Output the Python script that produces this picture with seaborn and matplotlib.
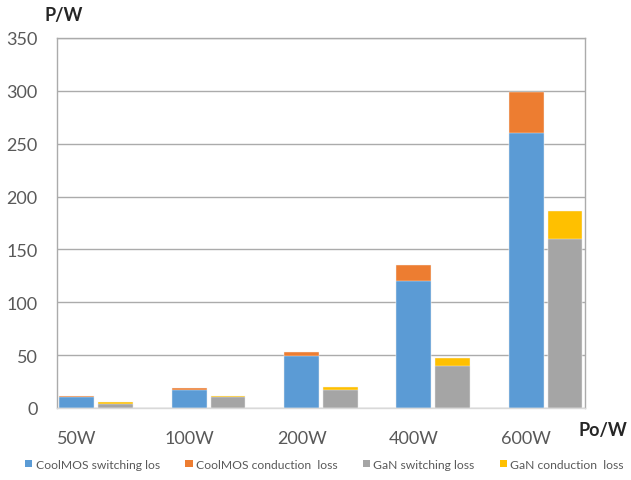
import numpy as np
import pandas as pd
import matplotlib
matplotlib.use("Agg")
import matplotlib.pyplot as plt
from matplotlib.patches import Patch
import seaborn as sns

# Power levels and loss components (W)
power_levels = ["50W", "100W", "200W", "400W", "600W"]
coolmos_switching = [10, 17, 49, 120, 260]
coolmos_conduction = [1, 2, 4, 15, 39]
gan_switching = [4, 10, 17, 40, 160]
gan_conduction = [1.5, 1, 3, 7, 26]
legend_labels = ["CoolMOS switching los", "CoolMOS conduction  loss",
                 "GaN switching loss", "GaN conduction  loss"]

c_blue, c_orange, c_gray, c_yellow = "#5B9BD5", "#ED7D31", "#A5A5A5", "#FFC000"

sns.set_theme(style="white")
plt.rcParams["font.family"] = ["Lato", "DejaVu Sans"]

df = pd.DataFrame({
    "power": power_levels * 2,
    "device": ["CoolMOS"] * 5 + ["GaN"] * 5,
    "switching": coolmos_switching + gan_switching,
    "total": [s + c for s, c in zip(coolmos_switching, coolmos_conduction)]
             + [s + c for s, c in zip(gan_switching, gan_conduction)],
})

fig = plt.figure(figsize=(6.31, 4.81), dpi=100)
ax = fig.add_axes([0.0903, 0.1497, 0.8367, 0.7693])

common = dict(data=df, x="power", hue="device", order=power_levels,
              hue_order=["CoolMOS", "GaN"], width=0.69, gap=0.1,
              dodge=True, legend=False, errorbar=None, ax=ax,
              edgecolor="#F2F2F2", linewidth=0.3, saturation=1)
# Stacked bars: full height (conduction on top) then switching part over it
sns.barplot(y="total", palette={"CoolMOS": c_orange, "GaN": c_yellow}, **common)
sns.barplot(y="switching", palette={"CoolMOS": c_blue, "GaN": c_gray}, **common)

ax.set_ylim(0, 350)
ax.set_yticks(range(0, 351, 50))
ax.set_xlim(-0.35, 4.35)
ax.set_xticks(np.arange(5) - 0.1725, power_levels)
ax.yaxis.grid(True, color="#ABABAB", linewidth=1.0)
ax.set_axisbelow(True)
ax.tick_params(axis="both", length=0, labelsize=13, labelcolor="#595959")
ax.tick_params(axis="x", pad=16)
ax.tick_params(axis="y", pad=14)
for name, sp in ax.spines.items():
    sp.set_visible(True)
    sp.set_color("#ABABAB")
    sp.set_linewidth(1.0)
ax.spines["bottom"].set_color("#D9D9D9")
ax.set_xlabel("")
ax.set_ylabel("")

fig.text(0.071, 0.968, "P/W", fontsize=13, fontweight="bold", color="#262626",
         ha="left", va="center")
fig.text(0.917, 0.106, "Po/W", fontsize=13, fontweight="bold", color="#262626",
         ha="left", va="center")

handles = [Patch(facecolor=c, edgecolor="none") for c in (c_blue, c_orange, c_gray, c_yellow)]
fig.legend(handles, legend_labels, loc="center left", bbox_to_anchor=(0.04, 0.033),
           ncol=4, frameon=False, fontsize=8.7, labelcolor="#595959",
           handlelength=0.6, handleheight=0.6, handletextpad=0.27, columnspacing=2.1,
           borderpad=0, borderaxespad=0)

fig.savefig("out.png", dpi=100, facecolor="white")
